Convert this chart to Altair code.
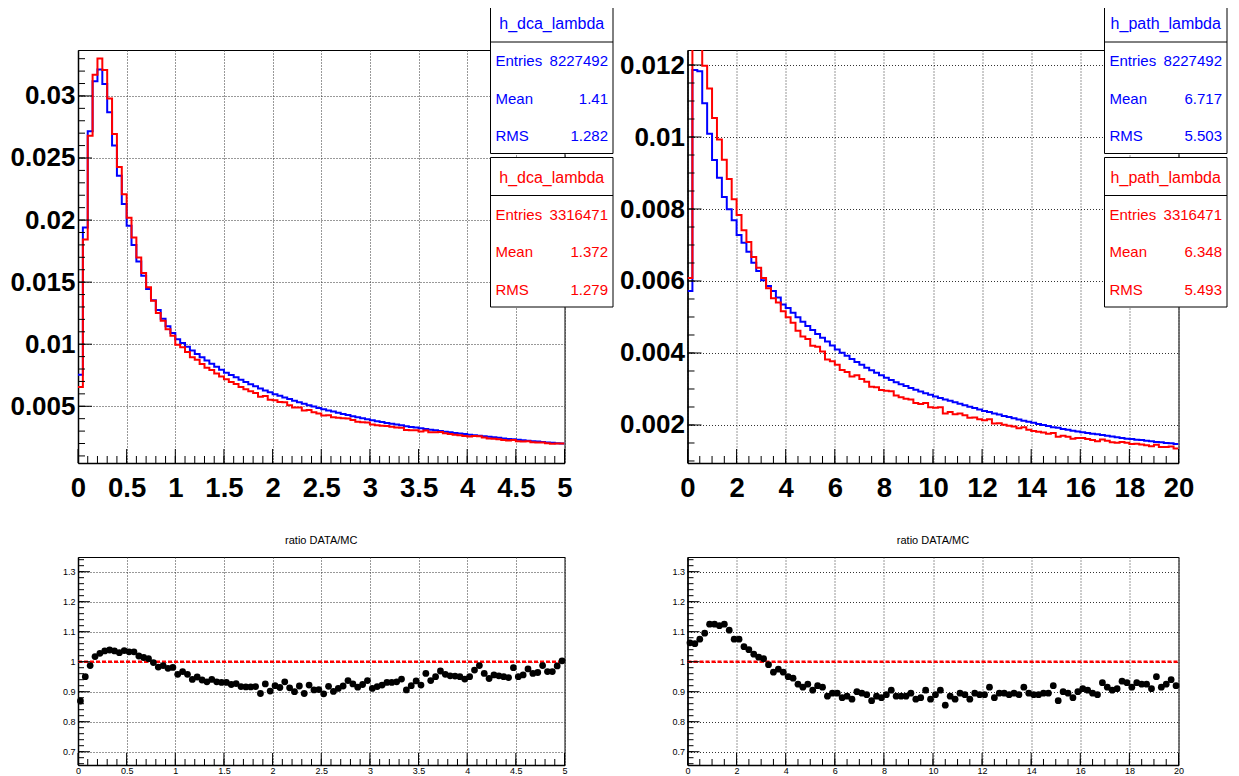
import altair as alt
import pandas as pd

# ---------------- data ----------------
dca_edges = [round(i * 0.05, 2) for i in range(101)]
dca_centers = [round((i + 0.5) * 0.05, 3) for i in range(100)]
path_edges = [round(i * 0.2, 1) for i in range(101)]
path_centers = [round((i + 0.5) * 0.2, 2) for i in range(100)]

dca_mc = [0.00754, 0.0194, 0.02715, 0.03118, 0.03212, 0.03097, 0.02868, 0.026, 0.02357, 0.02129,
          0.01954, 0.018, 0.01666, 0.01551, 0.01444, 0.01355, 0.01275, 0.01205, 0.01145, 0.0109,
          0.0104, 0.01009, 0.00979, 0.0095, 0.00922, 0.00895, 0.00868, 0.00843, 0.00818, 0.00794,
          0.00771, 0.00752, 0.00733, 0.00714, 0.00696, 0.00678, 0.00661, 0.00644, 0.00628, 0.00612,
          0.00597, 0.00584, 0.00571, 0.00558, 0.00545, 0.00533, 0.00521, 0.00509, 0.00498, 0.00487,
          0.00476, 0.00466, 0.00457, 0.00447, 0.00438, 0.00429, 0.0042, 0.00411, 0.00403, 0.00395,
          0.00387, 0.0038, 0.00373, 0.00366, 0.0036, 0.00353, 0.00347, 0.0034, 0.00334, 0.00328,
          0.00322, 0.00317, 0.00311, 0.00306, 0.00301, 0.00295, 0.0029, 0.00285, 0.00281, 0.00276,
          0.00271, 0.00267, 0.00262, 0.00258, 0.00254, 0.0025, 0.00246, 0.00241, 0.00237, 0.00234,
          0.0023, 0.00226, 0.00223, 0.00219, 0.00216, 0.00212, 0.00209, 0.00206, 0.00203, 0.002]

dca_data = [0.00655, 0.01843, 0.0268, 0.03171, 0.03302, 0.03208, 0.0298, 0.02694, 0.02428, 0.02208,
            0.02018, 0.01859, 0.01698, 0.01573, 0.01458, 0.01351, 0.01252, 0.01189, 0.0112, 0.01069,
            0.00996, 0.00976, 0.00938, 0.00894, 0.00875, 0.0084, 0.0081, 0.00793, 0.00763, 0.00739,
            0.00718, 0.00695, 0.0068, 0.00655, 0.00638, 0.00621, 0.00606, 0.00576, 0.00582, 0.00552,
            0.00549, 0.00534, 0.00533, 0.00509, 0.00491, 0.0049, 0.00466, 0.00469, 0.00451, 0.00442,
            0.00425, 0.00428, 0.00412, 0.00407, 0.00403, 0.00402, 0.00389, 0.00376, 0.00372, 0.0037,
            0.00353, 0.00348, 0.00344, 0.00341, 0.00335, 0.00329, 0.00327, 0.00308, 0.00307, 0.00307,
            0.00297, 0.00305, 0.00291, 0.00291, 0.00292, 0.00283, 0.00276, 0.00271, 0.00267, 0.0026,
            0.00257, 0.0026, 0.00259, 0.00248, 0.0024, 0.00239, 0.00234, 0.00229, 0.00224, 0.00229,
            0.00219, 0.00216, 0.00218, 0.0021, 0.00208, 0.00209, 0.00202, 0.00199, 0.002, 0.00201]

dca_ratio = [0.869, 0.95, 0.987, 1.017, 1.028, 1.036, 1.039, 1.036, 1.03, 1.037,
             1.033, 1.033, 1.019, 1.014, 1.01, 0.997, 0.982, 0.987, 0.978, 0.981,
             0.958, 0.967, 0.958, 0.941, 0.949, 0.939, 0.933, 0.941, 0.933, 0.931,
             0.931, 0.924, 0.927, 0.917, 0.916, 0.916, 0.917, 0.894, 0.926, 0.902,
             0.92, 0.914, 0.933, 0.913, 0.9, 0.919, 0.894, 0.922, 0.906, 0.907,
             0.893, 0.918, 0.901, 0.911, 0.919, 0.937, 0.926, 0.915, 0.924, 0.937,
             0.911, 0.917, 0.922, 0.931, 0.931, 0.933, 0.942, 0.906, 0.92, 0.936,
             0.922, 0.961, 0.937, 0.95, 0.969, 0.958, 0.953, 0.952, 0.95, 0.942,
             0.95, 0.972, 0.987, 0.961, 0.944, 0.956, 0.953, 0.95, 0.947, 0.98,
             0.95, 0.956, 0.976, 0.961, 0.964, 0.987, 0.967, 0.967, 0.986, 1.003]

path_mc = [0.00572, 0.01186, 0.01183, 0.01094, 0.01009, 0.00936, 0.00887, 0.00833, 0.00799, 0.00769,
           0.00728, 0.00706, 0.00681, 0.00651, 0.00628, 0.00602, 0.00586, 0.00572, 0.00554, 0.00535,
           0.00525, 0.00512, 0.00499, 0.00487, 0.00475, 0.00464, 0.00453, 0.00442, 0.00432, 0.00421,
           0.0041, 0.00401, 0.00392, 0.00383, 0.00375, 0.00367, 0.00359, 0.00352, 0.00345, 0.00338,
           0.00331, 0.00325, 0.00319, 0.00313, 0.00308, 0.00303, 0.00298, 0.00293, 0.00288, 0.00284,
           0.00279, 0.00275, 0.00271, 0.00267, 0.00263, 0.00259, 0.00255, 0.00251, 0.00247, 0.00243,
           0.00239, 0.00236, 0.00232, 0.00229, 0.00225, 0.00222, 0.00219, 0.00215, 0.00212, 0.00209,
           0.00206, 0.00203, 0.002, 0.00197, 0.00194, 0.00192, 0.00189, 0.00187, 0.00184, 0.00182,
           0.0018, 0.00178, 0.00176, 0.00174, 0.00172, 0.0017, 0.00168, 0.00166, 0.00164, 0.00162,
           0.00161, 0.00159, 0.00158, 0.00156, 0.00155, 0.00153, 0.00152, 0.0015, 0.00149, 0.00147]

path_data = [0.00608, 0.01257, 0.01272, 0.01198, 0.01135, 0.01053, 0.00993, 0.00937, 0.00883, 0.00827,
             0.00783, 0.00741, 0.00708, 0.00667, 0.00637, 0.00608, 0.0058, 0.00552, 0.0054, 0.00516,
             0.00499, 0.00484, 0.00462, 0.00446, 0.00439, 0.0042, 0.00417, 0.00404, 0.00382, 0.00377,
             0.00367, 0.00353, 0.00347, 0.00335, 0.00338, 0.00328, 0.0032, 0.00306, 0.00305, 0.00297,
             0.00295, 0.00294, 0.00282, 0.00277, 0.00273, 0.00271, 0.00261, 0.00258, 0.00261, 0.00249,
             0.00248, 0.00249, 0.00232, 0.00236, 0.0023, 0.00232, 0.00227, 0.0022, 0.00221, 0.00216,
             0.00213, 0.00216, 0.00204, 0.00205, 0.00201, 0.00198, 0.00196, 0.00191, 0.00194, 0.00187,
             0.00183, 0.00181, 0.00179, 0.00176, 0.00178, 0.00167, 0.0017, 0.00167, 0.00162, 0.00164,
             0.00164, 0.00161, 0.00158, 0.00155, 0.0016, 0.00156, 0.00152, 0.00151, 0.00153, 0.00151,
             0.00147, 0.00148, 0.00146, 0.00144, 0.00141, 0.00145, 0.00139, 0.00139, 0.0014, 0.00135]

path_ratio = [1.063, 1.06, 1.075, 1.095, 1.125, 1.125, 1.12, 1.125, 1.105, 1.075,
              1.075, 1.05, 1.04, 1.025, 1.015, 1.01, 0.99, 0.965, 0.975, 0.965,
              0.95, 0.945, 0.925, 0.915, 0.925, 0.905, 0.92, 0.915, 0.885, 0.895,
              0.895, 0.88, 0.885, 0.875, 0.9, 0.895, 0.89, 0.87, 0.885, 0.88,
              0.89, 0.905, 0.885, 0.885, 0.885, 0.895, 0.875, 0.88, 0.905, 0.875,
              0.89, 0.905, 0.855, 0.885, 0.875, 0.895, 0.89, 0.875, 0.895, 0.89,
              0.89, 0.915, 0.88, 0.895, 0.895, 0.89, 0.895, 0.89, 0.915, 0.895,
              0.89, 0.89, 0.895, 0.895, 0.92, 0.87, 0.9, 0.895, 0.88, 0.9,
              0.91, 0.905, 0.895, 0.89, 0.93, 0.915, 0.905, 0.91, 0.935, 0.93,
              0.915, 0.93, 0.925, 0.925, 0.91, 0.95, 0.915, 0.925, 0.94, 0.92]

dca_xticks = [0, 0.5, 1, 1.5, 2, 2.5, 3, 3.5, 4, 4.5, 5]
dca_xminor = [round(i * 0.1, 1) for i in range(1, 50)]
dca_yticks = [0.005, 0.01, 0.015, 0.02, 0.025, 0.03]
dca_yminor = [round(i * 0.001, 3) for i in range(1, 34)]
path_xticks = [0, 2, 4, 6, 8, 10, 12, 14, 16, 18, 20]
path_xminor = [i * 0.5 for i in range(1, 40)]
path_yticks = [0.002, 0.004, 0.006, 0.008, 0.01, 0.012]
path_yminor = [round(i * 0.0005, 4) for i in range(2, 25)]
ratio_yticks = [0.7, 0.8, 0.9, 1, 1.1, 1.2, 1.3]
ratio_yminor = [round(0.66 + i * 0.02, 2) for i in range(35)]

dca_stats_mc = ("h_dca_lambda", [("Entries", "8227492"), ("Mean", "1.41"), ("RMS", "1.282")])
dca_stats_data = ("h_dca_lambda", [("Entries", "3316471"), ("Mean", "1.372"), ("RMS", "1.279")])
path_stats_mc = ("h_path_lambda", [("Entries", "8227492"), ("Mean", "6.717"), ("RMS", "5.503")])
path_stats_data = ("h_path_lambda", [("Entries", "3316471"), ("Mean", "6.348"), ("RMS", "5.493")])

ratio_title = "ratio DATA/MC"

# ---------------- styling ----------------
FONT = "Liberation Sans"
BLUE = "#0000ff"
RED = "#ff0000"
W_L = 486.5   # left column plot width
W_R = 491     # right column plot width
HT = 413
HB = 208


def make_axis(values, size, bold, pad):
    return alt.Axis(values=values, format="~g", grid=True, gridDash=[1, 2], gridColor="#333333",
                    gridWidth=1, ticks=False, tickSize=0, labelFontSize=size,
                    labelFontWeight="bold" if bold else "normal", labelFont=FONT,
                    labelColor="black", labelPadding=pad, labelFlush=False, labelOverlap=False,
                    domainColor="black", domainWidth=1.5, title=None)


def tick_layers(xs, ys, xax, yax, xmaj, xmin, ymaj, ymin, H, majlen, minlen):
    out = []
    for vals, ln in ((xmaj, majlen), (xmin, minlen)):
        out.append(alt.Chart(pd.DataFrame({"v": vals})).mark_rule(color="black", strokeWidth=1)
                   .encode(x=alt.X("v:Q", scale=xs, axis=xax), y=alt.value(H), y2=alt.value(H - ln)))
    for vals, ln in ((ymaj, majlen), (ymin, minlen)):
        out.append(alt.Chart(pd.DataFrame({"v": vals})).mark_rule(color="black", strokeWidth=1)
                   .encode(y=alt.Y("v:Q", scale=ys, axis=yax), x=alt.value(0), x2=alt.value(ln)))
    return out


def stats_box(stats, color, top, W):
    title, rows = stats
    x0, x1 = W - 74, W + 48.5
    base = alt.Chart(pd.DataFrame({"k": [0]}))
    out = [
        base.mark_rect(fill="white", stroke="black", strokeWidth=1)
        .encode(x=alt.value(x0), x2=alt.value(x1), y=alt.value(top), y2=alt.value(top + 149.5)),
        base.mark_rule(color="black", strokeWidth=1)
        .encode(x=alt.value(x0), x2=alt.value(x1), y=alt.value(top + 38)),
        base.mark_text(text=title, color=color, fontSize=16, font=FONT, align="center", baseline="middle")
        .encode(x=alt.value((x0 + x1) / 2), y=alt.value(top + 20)),
    ]
    for j, (lab, val) in enumerate(rows):
        yy = top + 57 + 37.5 * j
        out.append(base.mark_text(text=lab, color=color, fontSize=15, font=FONT, align="left", baseline="middle")
                   .encode(x=alt.value(x0 + 5), y=alt.value(yy)))
        out.append(base.mark_text(text=val, color=color, fontSize=15, font=FONT, align="right", baseline="middle")
                   .encode(x=alt.value(x1 - 5), y=alt.value(yy)))
    return out


def top_panel(W, edges, mc, data, xdom, ydom, xmaj, xmin, ymaj, ymin, st_mc, st_data, anchor=False):
    xs = alt.Scale(domain=xdom, nice=False, zero=False)
    ys = alt.Scale(domain=ydom, nice=False, zero=False)
    xax = make_axis(xmaj, 27.5, True, 11)
    yax = make_axis(ymaj, 26, True, 3)
    df = pd.DataFrame({"x": edges, "mc": mc + [mc[-1]], "data": data + [data[-1]]})
    blue = alt.Chart(df).mark_line(color=BLUE, strokeWidth=2, interpolate="step-after", clip=True).encode(
        x=alt.X("x:Q", scale=xs, axis=xax), y=alt.Y("mc:Q", scale=ys, axis=yax))
    red = alt.Chart(df).mark_line(color=RED, strokeWidth=2, interpolate="step-after", clip=True).encode(
        x=alt.X("x:Q", scale=xs, axis=xax), y=alt.Y("data:Q", scale=ys, axis=yax))
    layers = [blue, red] + tick_layers(xs, ys, xax, yax, xmaj, xmin, ymaj, ymin, HT, 14, 7)
    layers += stats_box(st_mc, BLUE, -46, W) + stats_box(st_data, RED, 107.5, W)
    if anchor:
        layers.append(alt.Chart(pd.DataFrame({"k": [0]})).mark_rect(opacity=0).encode(
            x=alt.value(-150), x2=alt.value(-149), y=alt.value(-60), y2=alt.value(-59)))
    return alt.layer(*layers).properties(width=W, height=HT)


def ratio_panel(W, centers, ratio, xdom, xmaj, xmin):
    xs = alt.Scale(domain=xdom, nice=False, zero=False)
    ys = alt.Scale(domain=[0.6557, 1.349], nice=False, zero=False)
    xax = make_axis(xmaj, 9, False, 1)
    yax = make_axis(ratio_yticks, 9, False, 3)
    df = pd.DataFrame({"x": centers, "r": ratio})
    unity = alt.Chart(pd.DataFrame({"k": [0]})).mark_rule(color=RED, strokeWidth=2.5, strokeDash=[4, 2]).encode(
        y=alt.YDatum(1, scale=ys, axis=yax), x=alt.value(0), x2=alt.value(W))
    pts = alt.Chart(df).mark_circle(size=46, color="black", opacity=1).encode(
        x=alt.X("x:Q", scale=xs, axis=xax), y=alt.Y("r:Q", scale=ys, axis=yax))
    layers = [unity, pts] + tick_layers(xs, ys, xax, yax, xmaj, xmin, ratio_yticks, ratio_yminor, HB, 12, 6)
    return alt.layer(*layers).properties(
        width=W, height=HB,
        title=alt.TitleParams(ratio_title, fontSize=11, fontWeight="normal", font=FONT, color="black",
                              anchor="middle", offset=11))


tl = top_panel(W_L, dca_edges, dca_mc, dca_data, [0, 5], [0.00043, 0.0337], dca_xticks, dca_xminor,
               dca_yticks, dca_yminor, dca_stats_mc, dca_stats_data, anchor=True)
tr = top_panel(W_R, path_edges, path_mc, path_data, [0, 20], [0.000944, 0.012417], path_xticks, path_xminor,
               path_yticks, path_yminor, path_stats_mc, path_stats_data)
bl = ratio_panel(W_L, dca_centers, dca_ratio, [0, 5], dca_xticks, dca_xminor)
br = ratio_panel(W_R, path_centers, path_ratio, [0, 20], path_xticks, path_xminor)

chart = alt.concat(tl, tr, bl, br, columns=2, spacing={"row": 94, "column": 122.5}, bounds="flush").properties(
    padding={"left": -81, "top": -19, "right": 0, "bottom": 0}
).configure(font=FONT, background="white").configure_view(stroke="black", strokeWidth=1)

chart.save("out.html", embed_options={"renderer": "svg", "actions": False})
